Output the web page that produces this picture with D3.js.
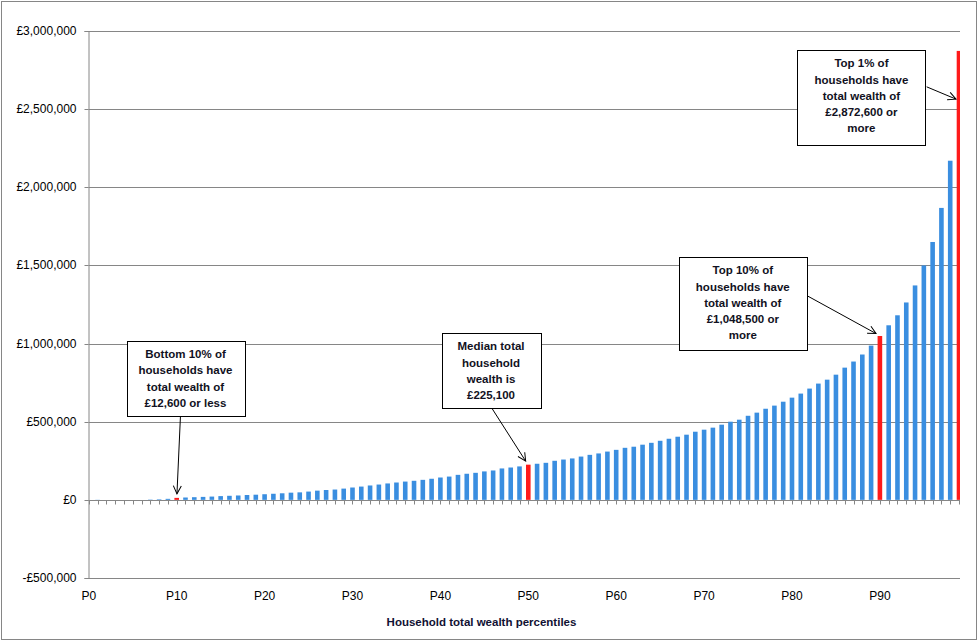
<!DOCTYPE html>
<html>
<head>
<meta charset="utf-8">
<script src="https://cdn.jsdelivr.net/npm/d3@7"></script>
<style>
  body { margin: 0; background: #fff; }
  svg { display: block; font-family: "Liberation Sans", Arial, sans-serif; }
</style>
</head>
<body>
<svg id="chart" width="979" height="641"></svg>
<script>
const width = 979;
const height = 641;

// household total wealth by percentile, P1..P99
const percentiles = d3.range(1, 100);
const values = [
  -3000, 0, 0, 0, 0, 0, 2000, 3500, 6500, 12600,
  15000, 17000, 19000, 21000, 24000, 26000, 28000, 31000, 33000, 36000,
  39000, 42000, 46000, 48000, 53000, 59000, 63000, 66000, 72000, 79000,
  85000, 92000, 98000, 105000, 111000, 117000, 122000, 128000, 135000, 143000,
  149000, 160000, 167000, 173000, 182000, 188000, 201000, 207000, 214000, 225100,
  231000, 237000, 250000, 258000, 265000, 277000, 288000, 297000, 309000, 320000,
  333000, 340000, 353000, 365000, 378000, 391000, 404000, 417000, 436000, 449000,
  462000, 481000, 500000, 513000, 538000, 558000, 583000, 603000, 628000, 654000,
  680000, 712000, 744000, 769000, 801000, 846000, 885000, 930000, 987000, 1048500,
  1117000, 1181000, 1263000, 1372000, 1500000, 1650000, 1868000, 2170000, 2872600
];
const highlighted = [10, 50, 90, 99];

const yTicks = [-500000, 0, 500000, 1000000, 1500000, 2000000, 2500000, 3000000];
const xTickValues = [0, 10, 20, 30, 40, 50, 60, 70, 80, 90];
const xTickLabels = ["P0", "P10", "P20", "P30", "P40", "P50", "P60", "P70", "P80", "P90"];

const notes = [
  { lines: ["Bottom 10% of", "households have", "total wealth of", "£12,600 or less"],
    x0: 4.31, x1: 17.69, top: 1019000, bottom: 538400, from: [10.43, 538400], to: [10.03, 38500] },
  { lines: ["Median total", "household", "wealth is", "£225,100"],
    x0: 40.15, x1: 51.37, top: 1068500, bottom: 587800, from: [45.84, 587800], to: [49.70, 248100] },
  { lines: ["Top 10% of", "households have", "total wealth of", "£1,048,500 or", "more"],
    x0: 67.14, x1: 81.67, top: 1555700, bottom: 961500, from: [81.67, 1307600], to: [89.56, 1064000] },
  { lines: ["Top 1% of", "households have", "total wealth of", "£2,872,600 or", "more"],
    x0: 80.6, x1: 95.2, top: 2880000, bottom: 2273600, from: [95.32, 2642800], to: [98.66, 2564000] }
];

const svg = d3.select("#chart");
const grey = "#868686";

const x = d3.scaleLinear().domain([0, 99]).range([88.8, 959]);
const y = d3.scaleLinear().domain([-500000, 3000000]).range([578, 31]);
const plotLeft = 88.5, plotRight = 960;

// chart border
svg.append("rect")
  .attr("x", 1.5).attr("y", 1.5)
  .attr("width", width - 4).attr("height", height - 3)
  .attr("fill", "#fff").attr("stroke", grey);

svg.append("defs").append("clipPath").attr("id", "plotclip")
  .append("rect")
  .attr("x", plotLeft).attr("y", y(3000000))
  .attr("width", plotRight - plotLeft).attr("height", y(-500000) - y(3000000));

svg.append("defs").append("marker")
  .attr("id", "arrow")
  .attr("viewBox", "0 0 10 10")
  .attr("refX", 9).attr("refY", 5)
  .attr("markerWidth", 10).attr("markerHeight", 10)
  .attr("markerUnits", "userSpaceOnUse")
  .attr("orient", "auto")
  .append("path")
  .attr("d", "M1,1 L9,5 L1,9")
  .attr("fill", "none")
  .attr("stroke", "#000")
  .attr("stroke-width", 1);

// gridlines
svg.append("g").selectAll("line")
  .data(yTicks)
  .enter().append("line")
  .attr("x1", plotLeft).attr("x2", plotRight)
  .attr("y1", d => Math.round(y(d)) + 0.5).attr("y2", d => Math.round(y(d)) + 0.5)
  .attr("stroke", grey);

// y axis
const yAxis = svg.append("g")
  .attr("transform", `translate(${plotLeft},0)`)
  .call(d3.axisLeft(y)
    .tickValues(yTicks)
    .tickSize(4)
    .tickPadding(8)
    .tickFormat(d => (d < 0 ? "-£" : "£") + d3.format(",")(Math.abs(d))));
yAxis.select(".domain").attr("stroke", grey);
yAxis.selectAll(".tick line").attr("stroke", grey);
yAxis.selectAll(".tick").attr("transform", d => `translate(0,${Math.round(y(d)) + 0.5})`);
yAxis.selectAll("text").attr("font-size", "12px").attr("fill", "#000").attr("font-family", "Liberation Sans, Arial, sans-serif");

// bars
svg.append("g")
  .attr("clip-path", "url(#plotclip)")
  .selectAll("rect")
  .data(percentiles.map((p, i) => ({ p, v: values[i] })))
  .enter().append("rect")
  .attr("x", d => x(d.p) - 2.3)
  .attr("width", 4.6)
  .attr("y", d => y(Math.max(d.v, 0)))
  .attr("height", d => Math.abs(y(d.v) - y(0)))
  .attr("fill", d => highlighted.includes(d.p) ? "#ff1a1a" : "#3a8ee0");

// category axis at zero
const zeroY = Math.round(y(0)) + 0.5;
svg.append("line")
  .attr("x1", plotLeft).attr("x2", plotRight)
  .attr("y1", zeroY).attr("y2", zeroY)
  .attr("stroke", grey);
svg.append("g").selectAll("line")
  .data(d3.range(0, 100))
  .enter().append("line")
  .attr("x1", d => Math.round(x(d)) + 0.5).attr("x2", d => Math.round(x(d)) + 0.5)
  .attr("y1", zeroY).attr("y2", zeroY + 4)
  .attr("stroke", grey);

// category labels along the bottom
svg.append("g").selectAll("text")
  .data(xTickValues)
  .enter().append("text")
  .attr("x", d => x(d))
  .attr("y", 600)
  .attr("text-anchor", "middle")
  .attr("font-size", "12px")
  .text((d, i) => xTickLabels[i]);

svg.append("text")
  .attr("x", 481.5)
  .attr("y", 626)
  .attr("text-anchor", "middle")
  .attr("font-size", "11.5px")
  .attr("font-weight", "bold")
  .attr("fill", "#111133")
  .text("Household total wealth percentiles");

// annotation boxes and arrows
const note = svg.append("g").selectAll("g")
  .data(notes)
  .enter().append("g");

note.append("line")
  .attr("x1", d => x(d.from[0])).attr("y1", d => y(d.from[1]))
  .attr("x2", d => x(d.to[0])).attr("y2", d => y(d.to[1]))
  .attr("stroke", "#000")
  .attr("marker-end", "url(#arrow)");

note.append("rect")
  .attr("x", d => Math.round(x(d.x0)) + 0.5)
  .attr("y", d => Math.round(y(d.top)) + 0.5)
  .attr("width", d => Math.round(x(d.x1) - x(d.x0)))
  .attr("height", d => Math.round(y(d.bottom) - y(d.top)))
  .attr("fill", "#fff")
  .attr("stroke", "#000");

note.append("text")
  .attr("text-anchor", "middle")
  .attr("font-size", "11.5px")
  .attr("font-weight", "bold")
  .attr("fill", "#111122")
  .each(function(d) {
    const cx = (x(d.x0) + x(d.x1)) / 2;
    const t = d3.select(this);
    d.lines.forEach((line, i) => {
      t.append("tspan")
        .attr("x", cx)
        .attr("y", y(d.top) + 17.5 + i * 16.3)
        .text(line);
    });
  });
</script>
</body>
</html>
